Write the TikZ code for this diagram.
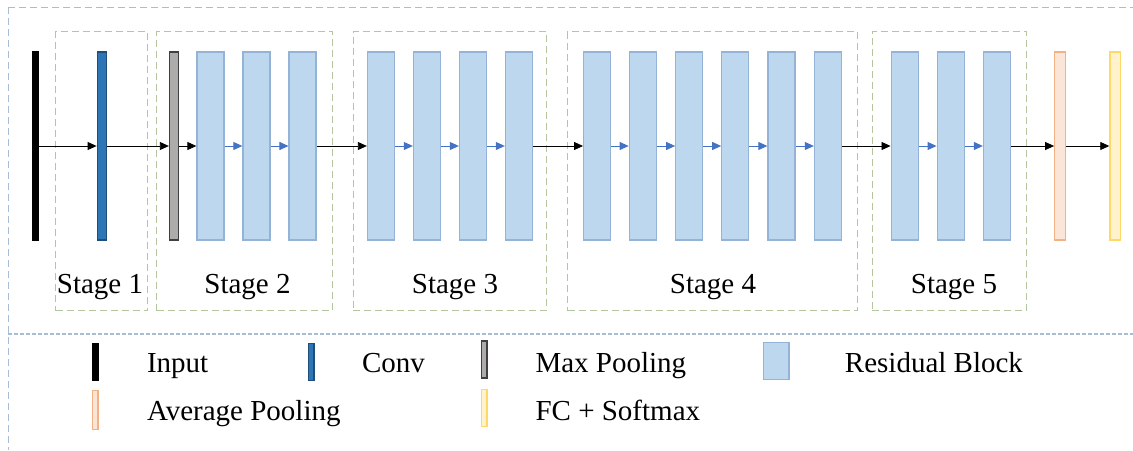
\documentclass[tikz,border=0pt]{standalone}
\usepackage{fontspec}
\setmainfont{Liberation Serif}
\usetikzlibrary{arrows.meta}
\definecolor{resfill}{HTML}{BDD7EE}
\definecolor{resdraw}{HTML}{95B3D7}
\definecolor{convfill}{HTML}{2E75B6}
\definecolor{convdraw}{HTML}{1F4E79}
\definecolor{poolfill}{HTML}{AEABAB}
\definecolor{pooldraw}{HTML}{404040}
\definecolor{avgfill}{HTML}{FBE5D6}
\definecolor{avgdraw}{HTML}{F4B183}
\definecolor{fcfill}{HTML}{FFF2CC}
\definecolor{fcdraw}{HTML}{FFD966}
\definecolor{frameblue}{HTML}{A7BDD6}
\definecolor{stagegreen}{HTML}{B3C6A0}
\definecolor{arrowblue}{HTML}{4472C4}
\tikzset{
  blk/.style={rectangle, inner sep=0pt, minimum height=188pt, line width=1.3pt},
  inputblk/.style={blk, fill=black, draw=black, minimum width=6.5pt},
  convblk/.style={blk, fill=convfill, draw=convdraw, minimum width=9.5pt},
  poolblk/.style={blk, fill=poolfill, draw=pooldraw, minimum width=9pt},
  resblk/.style={blk, fill=resfill, draw=resdraw, minimum width=27pt},
  avgblk/.style={blk, fill=avgfill, draw=avgdraw, minimum width=10.5pt},
  fcblk/.style={blk, fill=fcfill, draw=fcdraw, minimum width=10.5pt},
  stagebox/.style={rectangle, draw=stagegreen, line width=1.2pt, dash pattern=on 7pt off 4pt, inner sep=0pt, minimum height=279pt},
  stagelbl/.style={anchor=base, font=\fontsize{29}{34}\selectfont},
  flow/.style={-{Triangle[length=9pt,width=8pt]}, line width=0.8pt, black},
  inflow/.style={-{Triangle[length=9pt,width=8pt]}, line width=0.9pt, arrowblue},
  legtxt/.style={anchor=base west, font=\fontsize{29}{34}\selectfont},
  leg/.style={rectangle, inner sep=0pt, line width=1.3pt, minimum height=37pt, minimum width=5.5pt}
}
\begin{document}
\begin{tikzpicture}[x=1pt,y=-1pt]
\useasboundingbox (0,0) rectangle (1133,450);
% frame
\draw[frameblue, line width=1pt, dash pattern=on 7pt off 4pt] (8,7) -- (1133,7);
\draw[frameblue, line width=1pt, dash pattern=on 7pt off 4pt] (8,7) -- (8,450);
\draw[frameblue, line width=1.2pt, dash pattern=on 4pt off 2pt] (8,334) -- (1133,334);
% stage boxes
\node[stagebox, minimum width=92pt] (st1) at (101.8,171.3) {};
\node[stagebox, minimum width=175.5pt] (st2) at (244.5,171.3) {};
\node[stagebox, minimum width=193.5pt] (st3) at (450,171.3) {};
\node[stagebox, minimum width=289.5pt] (st4) at (712.5,171.3) {};
\node[stagebox, minimum width=154.5pt] (st5) at (949.5,171.3) {};
\node[stagelbl] (l1) at (100,293) {Stage 1};
\node[stagelbl] (l2) at (247.5,293) {Stage 2};
\node[stagelbl] (l3) at (455,293) {Stage 3};
\node[stagelbl] (l4) at (713,293) {Stage 4};
\node[stagelbl] (l5) at (954,293) {Stage 5};
% blocks
\node[inputblk] (in) at (35.5,146) {};
\node[convblk] (conv) at (102,146) {};
\node[poolblk] (mp) at (174,146) {};
\node[resblk] (a1) at (210.5,146) {};
\node[resblk] (a2) at (256.5,146) {};
\node[resblk] (a3) at (302.6,146) {};
\node[resblk] (b1) at (381,146) {};
\node[resblk] (b2) at (427,146) {};
\node[resblk] (b3) at (473,146) {};
\node[resblk] (b4) at (519,146) {};
\node[resblk] (c1) at (597.2,146) {};
\node[resblk] (c2) at (642.8,146) {};
\node[resblk] (c3) at (689.3,146) {};
\node[resblk] (c4) at (735.3,146) {};
\node[resblk] (c5) at (781.5,146) {};
\node[resblk] (c6) at (828,146) {};
\node[resblk] (d1) at (904.7,146) {};
\node[resblk] (d2) at (950.7,146) {};
\node[resblk] (d3) at (997,146) {};
\node[avgblk] (avg) at (1060,146) {};
\node[fcblk] (fc) at (1115.2,146) {};
% arrows
\draw[flow] (in.east) -- (conv.west);
\draw[flow] (conv.east) -- (mp.west);
\draw[flow] (mp.east) -- (a1.west);
\draw[inflow] (a1.east) -- (a2.west);
\draw[inflow] (a2.east) -- (a3.west);
\draw[flow] (a3.east) -- (b1.west);
\draw[inflow] (b1.east) -- (b2.west);
\draw[inflow] (b2.east) -- (b3.west);
\draw[inflow] (b3.east) -- (b4.west);
\draw[flow] (b4.east) -- (c1.west);
\draw[inflow] (c1.east) -- (c2.west);
\draw[inflow] (c2.east) -- (c3.west);
\draw[inflow] (c3.east) -- (c4.west);
\draw[inflow] (c4.east) -- (c5.west);
\draw[inflow] (c5.east) -- (c6.west);
\draw[flow] (c6.east) -- (d1.west);
\draw[inflow] (d1.east) -- (d2.west);
\draw[inflow] (d2.east) -- (d3.west);
\draw[flow] (d3.east) -- (avg.west);
\draw[flow] (avg.east) -- (fc.west);
% legend
\node[leg, fill=black, draw=black] (kin) at (95.3,362.2) {};
\node[legtxt] (tin) at (143.5,372.5) {Input};
\node[leg, fill=convfill, draw=convdraw] (kconv) at (311.3,362.2) {};
\node[legtxt] (tconv) at (358.6,372.5) {Conv};
\node[leg, fill=poolfill, draw=pooldraw] (kmp) at (484.3,359.5) {};
\node[legtxt] (tmp) at (532,372.5) {Max Pooling};
\node[leg, fill=resfill, draw=resdraw, minimum width=25.5pt] (kres) at (776.2,361.2) {};
\node[legtxt] (tres) at (841.4,372.5) {Residual Block};
\node[leg, fill=avgfill, draw=avgdraw, minimum height=39pt] (kavg) at (95.3,410) {};
\node[legtxt] (tavg) at (143.5,420) {Average Pooling};
\node[leg, fill=fcfill, draw=fcdraw] (kfc) at (484.3,408) {};
\node[legtxt] (tfc) at (532,420) {FC + Softmax};
\end{tikzpicture}
\end{document}
